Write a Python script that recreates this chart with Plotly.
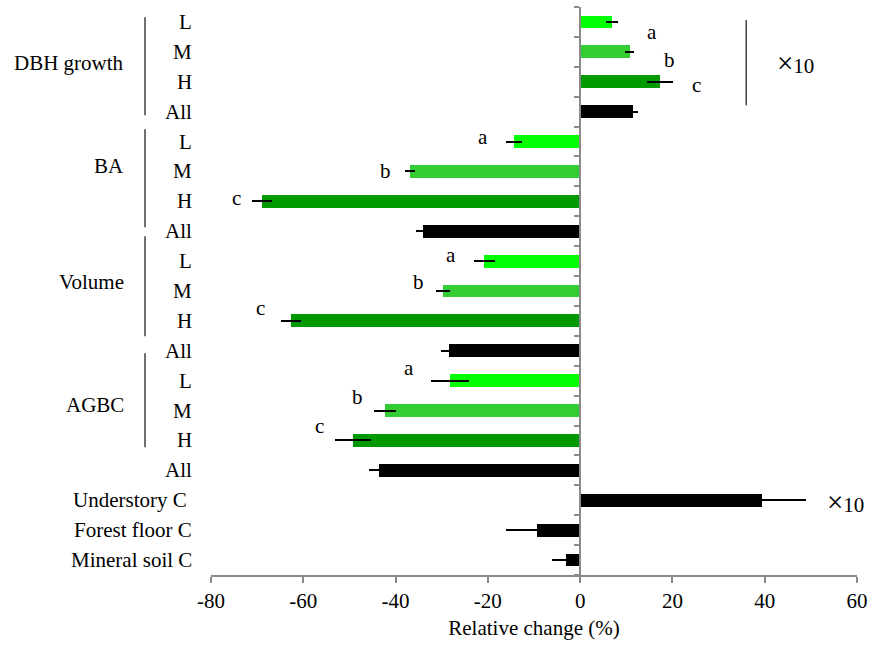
import plotly.graph_objects as go

# ---- data ----
row_labels = ["L", "M", "H", "All",
              "L", "M", "H", "All",
              "L", "M", "H", "All",
              "L", "M", "H", "All",
              "Understory C", "Forest floor C", "Mineral soil C"]
levels = ["L", "M", "H", "All",
          "L", "M", "H", "All",
          "L", "M", "H", "All",
          "L", "M", "H", "All",
          "All", "All", "All"]
values = [6.9, 10.7, 17.3, 11.5,
          -14.3, -36.8, -68.9, -34.0,
          -20.8, -29.7, -62.6, -28.4,
          -28.2, -42.3, -49.2, -43.5,
          39.4, -9.3, -3.0]
errors = [1.2, 1.0, 2.8, 1.0,
          1.7, 1.1, 2.2, 1.5,
          2.3, 1.5, 2.2, 1.7,
          4.1, 2.3, 3.9, 2.2,
          9.6, 6.7, 3.2]
group_names = ["DBH growth", "BA", "Volume", "AGBC"]
letters = ["a", "b", "c"] * 4
x_ticks = [-80, -60, -40, -20, 0, 20, 40, 60]
x_title = "Relative change (%)"

# ---- styles / layout helpers ----
level_color = {"L": "#00FF00", "M": "#33CC33", "H": "#009900", "All": "#000000"}
FONT = "Liberation Serif"
FS = 21
GRAY = "#8A8A8A"

n = len(row_labels)
ypos = list(range(n))

fig = go.Figure()
fig.add_trace(go.Bar(
    x=values, y=ypos, orientation="h",
    marker=dict(color=[level_color[l] for l in levels], line=dict(width=0)),
    width=0.43,
    error_x=dict(type="data", array=errors, color="black", thickness=2, width=0),
    showlegend=False, hoverinfo="x+y",
))

annotations = []
# row labels
for i, lab in enumerate(row_labels):
    annotations.append(dict(
        x=-0.0265 if lab != "Understory C" else -0.0335, xref="paper", y=i, yref="y",
        text=lab, showarrow=False, xanchor="right", yanchor="middle",
        font=dict(family=FONT, size=FS, color="black")))

# group labels (positions in data rows)
group_y = [1.38, 4.83, 8.71, 12.82]
for name, gy in zip(group_names, group_y):
    annotations.append(dict(
        x=(126 - 211) / 646, xref="paper", y=gy, yref="y",
        text=name, showarrow=False, xanchor="right", yanchor="middle",
        font=dict(family=FONT, size=FS, color="black")))

# significance letters (positions)
letter_pos = [(15.6, 0.34), (19.4, 1.27), (25.3, 2.12),
              (-21.0, 3.86), (-42.1, 4.99), (-74.4, 5.88),
              (-27.9, 7.78), (-35.1, 8.70), (-69.2, 9.57),
              (-37.0, 11.59), (-48.2, 12.54), (-56.5, 13.52)]
for t, (lx, ly) in zip(letters, letter_pos):
    annotations.append(dict(
        x=lx, y=ly, xref="x", yref="y", text=t, showarrow=False,
        xanchor="center", yanchor="middle",
        font=dict(family=FONT, size=FS, color="black")))

# x10 labels
times_ten = "<span style='font-size:29px'>×</span>10"
for (lx, ly) in [(46.6, 1.38), (57.4, 16.05)]:
    annotations.append(dict(
        x=lx, y=ly, xref="x", yref="y", text=times_ten, showarrow=False,
        xanchor="center", yanchor="middle",
        font=dict(family=FONT, size=FS, color="black")))

shapes = []
# group brackets on the left
for (y0, y1) in [(-0.156, 3.12), (3.59, 6.87), (7.17, 10.51), (11.08, 14.23)]:
    xp = (145 - 211) / 646
    shapes.append(dict(type="line", xref="paper", yref="y", x0=xp, x1=xp,
                       y0=y0, y1=y1, line=dict(color="#404040", width=1.5)))
# right bracket
shapes.append(dict(type="line", xref="x", yref="y", x0=36.0, x1=36.0,
                   y0=-0.06, y1=2.79, line=dict(color="#404040", width=1.5)))

fig.update_layout(
    width=874, height=650,
    margin=dict(l=211, r=17, t=7, b=75),
    plot_bgcolor="white", paper_bgcolor="white",
    bargap=0,
    font=dict(family=FONT, size=FS, color="black"),
    xaxis=dict(
        range=[-80, 60], tickvals=x_ticks, ticktext=[str(v) for v in x_ticks],
        ticks="outside", ticklen=6, tickwidth=2, tickcolor=GRAY,
        showline=True, linecolor=GRAY, linewidth=2,
        showgrid=False, zeroline=False, automargin=False,
        tickfont=dict(family=FONT, size=FS, color="black"),
        title=dict(text=x_title, font=dict(family=FONT, size=FS, color="black"), standoff=8),
    ),
    yaxis=dict(
        range=[n - 0.5, -0.5], tickvals=[i - 0.5 for i in range(n + 1)],
        showticklabels=False, ticks="outside", ticklen=5, tickwidth=2, tickcolor=GRAY,
        showline=True, linecolor=GRAY, linewidth=2,
        anchor="free", position=80 / 140, automargin=False,
        showgrid=False, zeroline=False,
    ),
    annotations=annotations,
    shapes=shapes,
)

fig.write_html("out.html", config={"displayModeBar": False},
               post_script="document.body.style.margin='0px';")
